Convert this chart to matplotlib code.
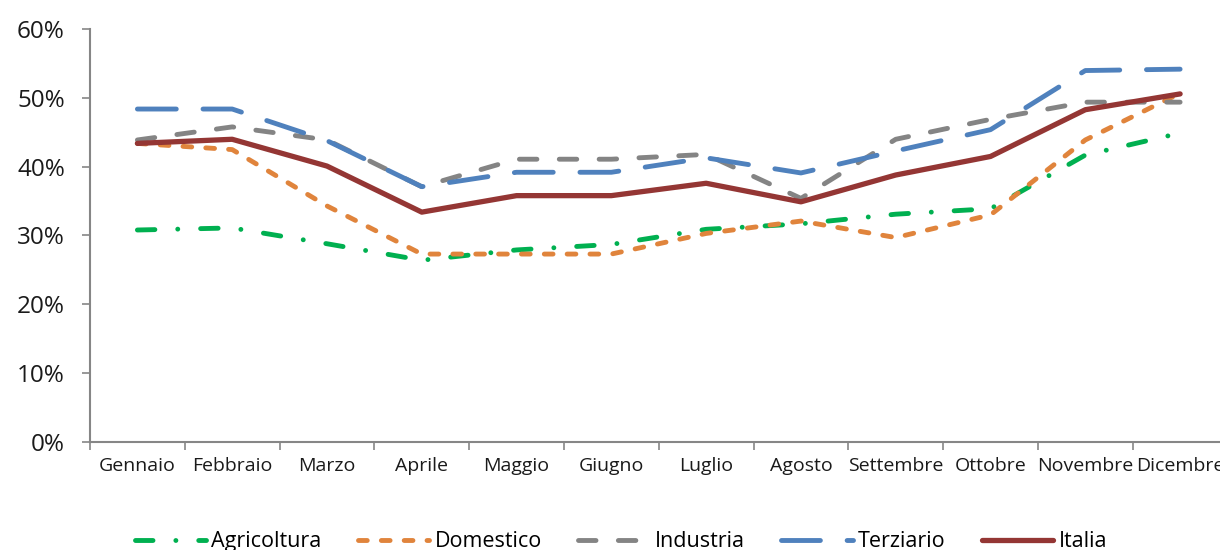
import matplotlib
matplotlib.use("Agg")
import matplotlib.pyplot as plt
from matplotlib.ticker import FixedLocator, PercentFormatter

plt.rcParams['font.family'] = ['Open Sans', 'DejaVu Sans']

months = ["Gennaio", "Febbraio", "Marzo", "Aprile", "Maggio", "Giugno",
          "Luglio", "Agosto", "Settembre", "Ottobre", "Novembre", "Dicembre"]

# valori in %
agricoltura = [30.8, 31.1, 28.8, 26.4, 27.9, 28.7, 30.9, 31.7, 33.1, 33.9, 41.7, 44.9]
domestico = [43.4, 42.5, 34.3, 27.3, 27.3, 27.3, 30.3, 32.1, 29.7, 33.0, 43.9, 50.7]
industria = [43.9, 45.8, 43.9, 37.1, 41.1, 41.1, 41.8, 35.4, 44.0, 46.9, 49.4, 49.4]
terziario = [48.4, 48.4, 43.8, 37.1, 39.2, 39.2, 41.3, 39.1, 42.3, 45.4, 54.0, 54.2]
italia = [43.4, 44.0, 40.1, 33.4, 35.8, 35.8, 37.6, 34.9, 38.8, 41.5, 48.3, 50.6]

fig = plt.figure(figsize=(12.2, 5.5), dpi=100)
ax = fig.add_axes([90 / 1220, 108.3 / 550, 1137.5 / 1220, 412.4 / 550])

x = list(range(len(months)))
lw = 3.5
ax.plot(x, agricoltura, color='#00B050', lw=lw, dashes=(3.6, 4.7, 0.01, 4.7),
        dash_capstyle='round', solid_capstyle='round', label='Agricoltura')
ax.plot(x, domestico, color='#E0843C', lw=lw, dashes=(1.8, 2.9),
        dash_capstyle='round', label='Domestico')
ax.plot(x, industria, color='#848484', lw=lw, dashes=(3.6, 4.6),
        dash_capstyle='round', label='Industria')
ax.plot(x, terziario, color='#4F81BD', lw=lw, dashes=(8, 5.5),
        dash_capstyle='round', label='Terziario')
ax.plot(x, italia, color='#943634', lw=3.8, solid_capstyle='round', label='Italia')

ax.set_xlim(-0.5, 11.5)
ax.set_ylim(0, 60)
ax.yaxis.set_major_locator(FixedLocator(range(0, 61, 10)))
ax.yaxis.set_major_formatter(PercentFormatter(decimals=0))

ax.set_xticks([i - 0.5 for i in range(13)])
ax.set_xticklabels([])
ax.set_xticks(x, minor=True)
ax.set_xticklabels(months, minor=True)
ax.tick_params(axis='x', which='major', length=6, width=1.2, color='#868686', direction='out')
ax.tick_params(axis='x', which='minor', length=0, pad=11, labelsize=14, labelcolor='#1a1a1a')
ax.tick_params(axis='y', length=6, width=1.2, color='#868686', pad=12,
               labelsize=17.5, labelcolor='#1a1a1a')

for s in ['top', 'right']:
    ax.spines[s].set_visible(False)
for s in ['left', 'bottom']:
    ax.spines[s].set_color('#868686')
    ax.spines[s].set_linewidth(1.5)

fig.legend(loc='center', bbox_to_anchor=(0.509, 0.015), ncol=5, frameon=False,
           fontsize=15.5, handlelength=3.3, handletextpad=0.25, columnspacing=1.7)

fig.savefig("out.png", dpi=100)
